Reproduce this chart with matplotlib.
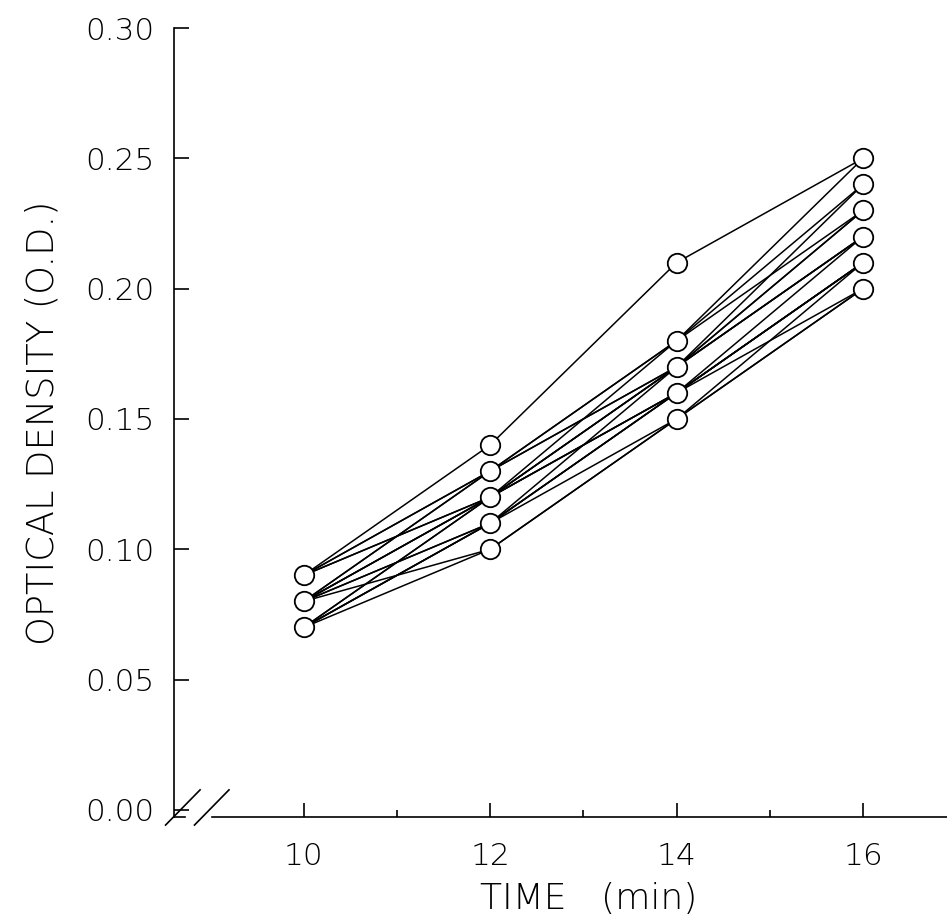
import matplotlib
matplotlib.use("Agg")
import matplotlib.pyplot as plt

# time points (min)
TIMES = [10, 12, 14, 16]

# optical density per sample, one list per curve
SERIES = [
    [0.09, 0.14, 0.21, 0.25],
    [0.09, 0.13, 0.18, 0.25],
    [0.09, 0.12, 0.17, 0.24],
    [0.08, 0.13, 0.18, 0.24],
    [0.08, 0.12, 0.17, 0.23],
    [0.08, 0.13, 0.17, 0.23],
    [0.08, 0.12, 0.16, 0.22],
    [0.09, 0.13, 0.17, 0.22],
    [0.08, 0.11, 0.16, 0.21],
    [0.07, 0.11, 0.16, 0.21],
    [0.07, 0.12, 0.16, 0.21],
    [0.07, 0.12, 0.17, 0.22],
    [0.08, 0.12, 0.18, 0.23],
    [0.07, 0.10, 0.15, 0.20],
    [0.07, 0.11, 0.15, 0.20],
    [0.08, 0.11, 0.17, 0.22],
    [0.09, 0.12, 0.16, 0.21],
    [0.07, 0.11, 0.16, 0.20],
    [0.08, 0.10, 0.15, 0.21],
]

Y_TICKS = [0.00, 0.05, 0.10, 0.15, 0.20, 0.25, 0.30]
X_TICKS = [10, 12, 14, 16]
X_MINOR = [11, 13, 15]

plt.rcParams["font.family"] = ["DejaVu Sans"]
plt.rcParams["font.weight"] = "light"
plt.rcParams["axes.labelweight"] = "light"

fig = plt.figure(figsize=(9.47, 9.22), dpi=100)
ax = fig.add_axes([0.1837, 0.1139, 0.8163, 0.8557])

for s in SERIES:
    ax.plot(TIMES, s, color="black", linewidth=1.1, zorder=2)

# circles on top (one per distinct point)
pts = sorted({(t, v) for s in SERIES for t, v in zip(TIMES, s)})
ax.plot([p[0] for p in pts], [p[1] for p in pts], linestyle="none",
        marker="o", markersize=14, markerfacecolor="white",
        markeredgecolor="black", markeredgewidth=1.3, zorder=3)

ax.set_xlim(8.61, 16.9)
ax.set_ylim(-0.0027, 0.30)

ax.spines["top"].set_visible(False)
ax.spines["right"].set_visible(False)
ax.spines["bottom"].set_visible(False)
ax.spines["left"].set_linewidth(1.2)
ax.spines["left"].set_bounds(-0.0027, 0.30)

# broken x axis line
ya = -0.0027
ax.plot([8.61, 8.73], [ya, ya], color="black", lw=1.2, clip_on=False)
ax.plot([9.02, 16.9], [ya, ya], color="black", lw=1.2, clip_on=False)
ax.plot([8.52, 8.89], [-0.0058, 0.0077], color="black", lw=1.2, clip_on=False)
ax.plot([8.83, 9.20], [-0.0058, 0.0077], color="black", lw=1.2, clip_on=False)

ax.set_yticks(Y_TICKS)
ax.set_yticklabels([f"{v:.2f}" for v in Y_TICKS])
ax.set_xticks(X_TICKS)
ax.set_xticklabels([str(v) for v in X_TICKS])
ax.set_xticks(X_MINOR, minor=True)

ax.tick_params(axis="y", direction="in", length=11, width=1.2, labelsize=22.5, pad=14)
ax.tick_params(axis="x", which="major", direction="in", length=10, width=1.2,
               labelsize=22.5, pad=18, bottom=True)
ax.tick_params(axis="x", which="minor", direction="in", length=5, width=1.2)

ax.set_xlabel("TIME   (min)", fontsize=26, fontweight="light")
ax.xaxis.set_label_coords(0.537, -0.082)
ax.set_ylabel("OPTICAL DENSITY (O.D.)", fontsize=26.5, fontweight="light", labelpad=18)

fig.savefig("out.png", dpi=100, facecolor="white")
